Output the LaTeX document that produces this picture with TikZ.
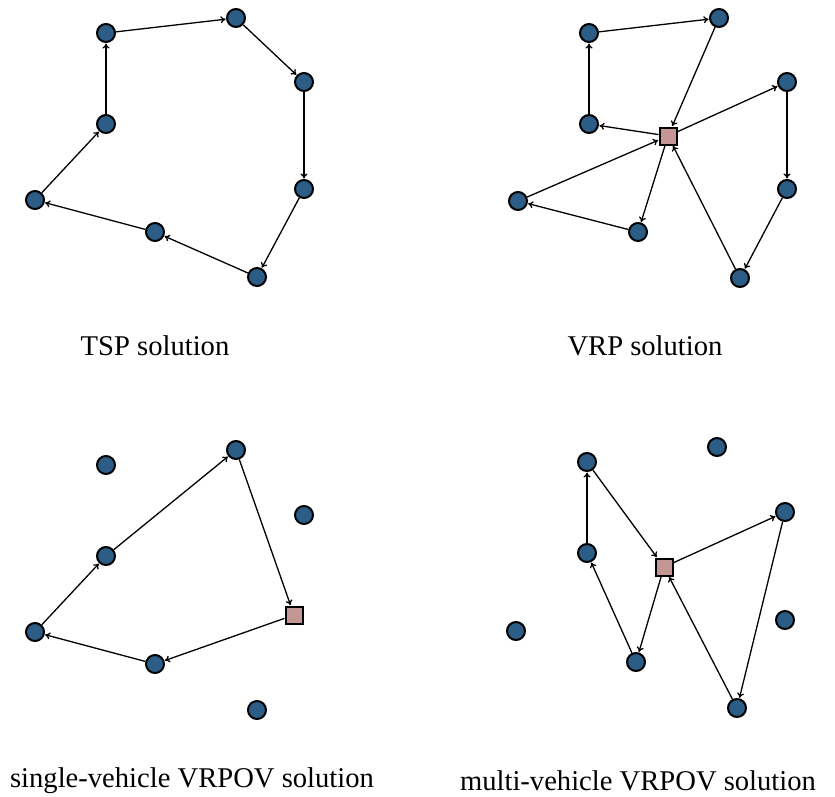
\documentclass[tikz,border=0pt]{standalone}
\usepackage{fontspec}
\setmainfont{Liberation Serif}
\usetikzlibrary{arrows.meta}
\definecolor{nodeblue}{HTML}{2B5D86}
\definecolor{depotpink}{HTML}{C49696}
\tikzset{
  cust/.style={circle, draw=black, fill=nodeblue, line width=2pt, minimum size=18pt, inner sep=0pt},
  depot/.style={rectangle, draw=black, fill=depotpink, line width=2pt, minimum size=17pt, inner sep=0pt},
  route/.style={draw=black, line width=1.3pt, -{To[length=5pt,width=7pt]}, shorten >=0.5pt},
  caption/.style={font=\fontsize{28.6}{32}\selectfont, inner sep=0pt, anchor=base}
}
\begin{document}
\begin{tikzpicture}[x=1pt,y=-1pt]
\useasboundingbox (0,0) rectangle (835,796);
% TSP
\node[cust] (t1) at (106,33) {};
\node[cust] (t2) at (236,18) {};
\node[cust] (t3) at (304,82) {};
\node[cust] (t4) at (304,189) {};
\node[cust] (t5) at (257,277) {};
\node[cust] (t6) at (155,232) {};
\node[cust] (t7) at (35,200) {};
\node[cust] (t8) at (106,124) {};
\draw[route] (t1) -- (t2);
\draw[route] (t2) -- (t3);
\draw[route] (t3) -- (t4);
\draw[route] (t4) -- (t5);
\draw[route] (t5) -- (t6);
\draw[route] (t6) -- (t7);
\draw[route] (t7) -- (t8);
\draw[route] (t8) -- (t1);
\node[caption] (ct) at (155,355) {TSP solution};
% VRP
\node[depot] (vd) at (668,136) {};
\node[cust] (v1) at (589,33) {};
\node[cust] (v2) at (719,18) {};
\node[cust] (v3) at (787,82) {};
\node[cust] (v4) at (787,189) {};
\node[cust] (v5) at (740,278) {};
\node[cust] (v6) at (638,232) {};
\node[cust] (v7) at (518,201) {};
\node[cust] (v8) at (589,124) {};
\draw[route] (vd) -- (v3);
\draw[route] (v3) -- (v4);
\draw[route] (v4) -- (v5);
\draw[route] (v5) -- (vd);
\draw[route] (vd) -- (v8);
\draw[route] (v8) -- (v1);
\draw[route] (v1) -- (v2);
\draw[route] (v2) -- (vd);
\draw[route] (vd) -- (v6);
\draw[route] (v6) -- (v7);
\draw[route] (v7) -- (vd);
\node[caption] (cv) at (645,355) {VRP solution};
% single-vehicle VRPOV
\node[depot] (sd) at (294,615) {};
\node[cust] (s1) at (106,465) {};
\node[cust] (s2) at (236,450) {};
\node[cust] (s3) at (304,515) {};
\node[cust] (s5) at (257,710) {};
\node[cust] (s6) at (155,664) {};
\node[cust] (s7) at (35,632) {};
\node[cust] (s8) at (106,556) {};
\draw[route] (s2) -- (sd);
\draw[route] (sd) -- (s6);
\draw[route] (s6) -- (s7);
\draw[route] (s7) -- (s8);
\draw[route] (s8) -- (s2);
\node[caption] (cs) at (192,787) {single-vehicle VRPOV solution};
% multi-vehicle VRPOV
\node[depot] (md) at (664,567) {};
\node[cust] (m1) at (587,462) {};
\node[cust] (m2) at (717,447) {};
\node[cust] (m3) at (785,512) {};
\node[cust] (m4) at (785,620) {};
\node[cust] (m5) at (737,708) {};
\node[cust] (m6) at (636,662) {};
\node[cust] (m7) at (516,631) {};
\node[cust] (m8) at (587,553) {};
\draw[route] (m1) -- (md);
\draw[route] (md) -- (m3);
\draw[route] (m3) -- (m5);
\draw[route] (m5) -- (md);
\draw[route] (md) -- (m6);
\draw[route] (m6) -- (m8);
\draw[route] (m8) -- (m1);
\node[caption] (cm) at (638,790) {multi-vehicle VRPOV solution};
\end{tikzpicture}
\end{document}
